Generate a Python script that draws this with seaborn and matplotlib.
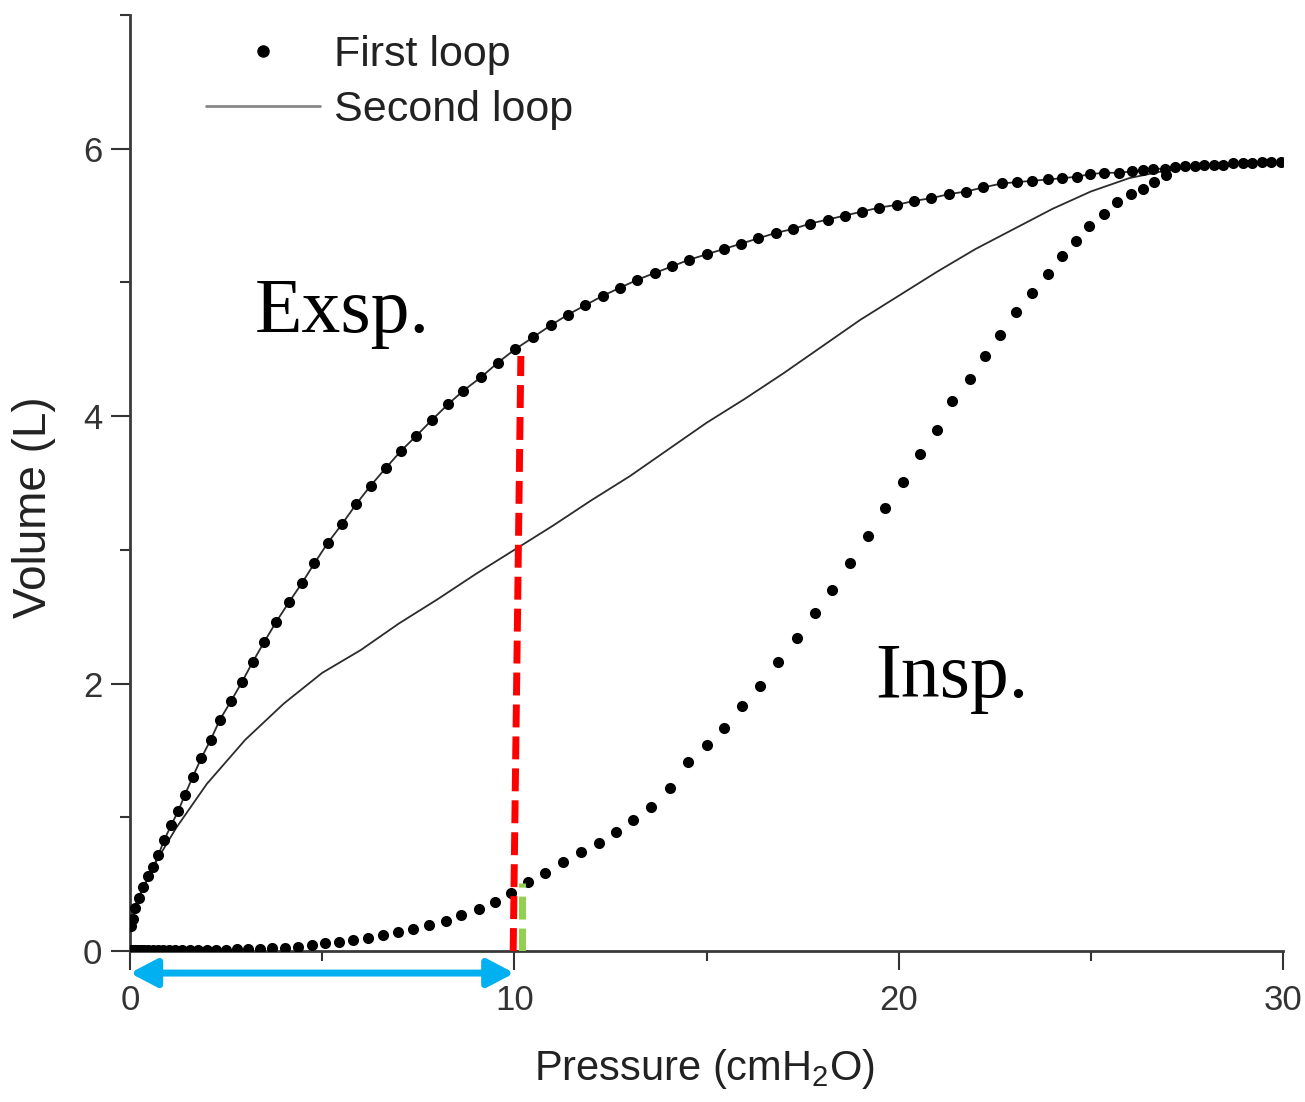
import numpy as np
import matplotlib
matplotlib.use("Agg")
import matplotlib.pyplot as plt
from matplotlib.lines import Line2D
import seaborn as sns

# ---------- data ----------
# first loop, expiratory (upper) limb, dots
exp_p = [0.03, 0.07, 0.13, 0.24, 0.35, 0.48, 0.61, 0.74, 0.89, 1.07, 1.26, 1.43,
         1.63, 1.85, 2.10, 2.34, 2.63, 2.91, 3.19, 3.49, 3.80, 4.14, 4.47, 4.80,
         5.14, 5.51, 5.88, 6.26, 6.65, 7.05, 7.44, 7.85, 8.28, 8.67, 9.13, 9.57,
         10.02, 10.49, 10.95, 11.40, 11.85, 12.30, 12.75, 13.20, 13.65, 14.10,
         14.55, 15.00, 15.45, 15.90, 16.35, 16.80, 17.25, 17.70, 18.15, 18.60,
         19.05, 19.50, 19.95, 20.40, 20.85, 21.30, 21.75, 22.20, 22.68, 23.07,
         23.48, 23.88, 24.26, 24.63, 24.98, 25.35, 25.72, 26.07, 26.35, 26.63,
         26.93, 27.19, 27.45, 27.70, 27.95, 28.20, 28.45, 28.70, 28.95, 29.20,
         29.45, 29.70, 29.95]
exp_v = [0.19, 0.24, 0.32, 0.40, 0.48, 0.56, 0.63, 0.72, 0.83, 0.94, 1.05, 1.17,
         1.30, 1.44, 1.58, 1.73, 1.87, 2.01, 2.16, 2.31, 2.46, 2.61, 2.75, 2.90,
         3.05, 3.19, 3.34, 3.48, 3.61, 3.74, 3.85, 3.97, 4.09, 4.19, 4.29, 4.40,
         4.50, 4.59, 4.68, 4.76, 4.83, 4.90, 4.96, 5.02, 5.07, 5.12, 5.17, 5.21,
         5.25, 5.29, 5.33, 5.37, 5.40, 5.44, 5.47, 5.50, 5.53, 5.56, 5.58, 5.61,
         5.63, 5.66, 5.68, 5.71, 5.74, 5.75, 5.76, 5.77, 5.78, 5.79, 5.81, 5.82,
         5.82, 5.83, 5.84, 5.85, 5.85, 5.86, 5.87, 5.87, 5.88, 5.88, 5.88, 5.89,
         5.89, 5.89, 5.90, 5.90, 5.90]

# first loop, inspiratory (lower) limb, dots
insp_p = [0.02, 0.07, 0.13, 0.20, 0.28, 0.37, 0.47, 0.59, 0.72, 0.86, 1.01,
          1.18, 1.36, 1.56, 1.77, 2.00, 2.24, 2.50, 2.78, 3.07, 3.38, 3.70,
          4.03, 4.38, 4.73, 5.08, 5.43, 5.80, 6.20, 6.58, 6.97, 7.37, 7.79,
          8.22, 8.62, 9.07, 9.49, 9.91, 10.36, 10.81, 11.27, 11.74, 12.20,
          12.65, 13.10, 13.55, 14.05, 14.52, 15.00, 15.46, 15.92, 16.39, 16.86,
          17.36, 17.82, 18.27, 18.74, 19.20, 19.65, 20.11, 20.56, 21.00, 21.39,
          21.86, 22.25, 22.64, 23.06, 23.46, 23.88, 24.26, 24.62, 24.96, 25.35,
          25.67, 26.04, 26.35, 26.64, 26.95]
insp_v = [0.01, 0.01, 0.01, 0.01, 0.01, 0.01, 0.01, 0.01, 0.01, 0.01, 0.01,
          0.01, 0.01, 0.01, 0.01, 0.01, 0.01, 0.01, 0.012, 0.014, 0.017, 0.02,
          0.025, 0.032, 0.045, 0.057, 0.069, 0.082, 0.097, 0.119, 0.14, 0.162,
          0.194, 0.224, 0.269, 0.313, 0.368, 0.435, 0.517, 0.58, 0.666, 0.741,
          0.81, 0.89, 0.98, 1.08, 1.22, 1.41, 1.54, 1.67, 1.83, 1.98, 2.16,
          2.34, 2.53, 2.70, 2.90, 3.10, 3.31, 3.51, 3.72, 3.90, 4.11, 4.28,
          4.45, 4.61, 4.78, 4.92, 5.06, 5.20, 5.31, 5.42, 5.51, 5.60, 5.66,
          5.70, 5.75, 5.80]

# second loop, inspiratory limb (expiration runs back along the first loop)
second_p = [0.0, 0.3, 0.7, 1.2, 2.0, 3.0, 4.0, 5.0, 6.0, 7.0, 8.0, 9.0, 10.0,
            11.0, 12.0, 13.0, 14.0, 15.0, 16.0, 17.0, 18.0, 19.0, 20.0, 21.0,
            22.0, 23.0, 24.0, 25.0, 26.0, 27.0, 28.0, 29.0, 30.0]
second_v = [0.25, 0.45, 0.68, 0.92, 1.25, 1.58, 1.85, 2.08, 2.25, 2.45, 2.63,
            2.82, 3.00, 3.18, 3.37, 3.55, 3.75, 3.95, 4.13, 4.32, 4.52, 4.72,
            4.90, 5.08, 5.25, 5.40, 5.55, 5.68, 5.78, 5.84, 5.87, 5.89, 5.90]

# overlay annotations
red_p = [9.97, 10.17]
red_v = [0.0, 4.45]
green_p = [10.19, 10.19]
green_v = [0.0, 0.51]
arrow_p = [0.0, 10.0]
arrow_v = -0.165

loop2_p = second_p + exp_p[::-1]
loop2_v = second_v + exp_v[::-1]

# ---------- style ----------
sns.set_style("ticks")
plt.rcParams["font.family"] = ["Liberation Sans", "DejaVu Sans"]
plt.rcParams["mathtext.fontset"] = "custom"
plt.rcParams["mathtext.rm"] = "Liberation Sans"

fig = plt.figure(figsize=(13.05, 11.02), dpi=100)
ax = fig.add_axes([130 / 1305, 151 / 1102, 1153 / 1305, 936 / 1102])

# second loop line
sns.lineplot(x=loop2_p, y=loop2_v, sort=False, estimator=None, ax=ax,
             color="#2b2b2b", linewidth=1.3, zorder=2)

# first loop dots
sns.scatterplot(x=exp_p, y=exp_v, ax=ax, color="black", s=64,
                linewidth=0, zorder=3)
sns.scatterplot(x=insp_p, y=insp_v, ax=ax, color="black", s=64,
                linewidth=0, zorder=3)

# dashed markers
ax.plot(red_p, red_v, color="#ff0000", linewidth=5, dashes=(3.3, 1.3),
        solid_capstyle="butt", zorder=4)
ax.plot(green_p, green_v, color="#92d050", linewidth=5, dashes=(3.3, 1.3),
        zorder=4)

# blue double arrow under the axis
ax.annotate("", xy=(arrow_p[0], arrow_v), xytext=(arrow_p[1], arrow_v),
            arrowprops=dict(arrowstyle="<|-|>,head_length=0.8,head_width=0.42",
                            color="#00b0f0", lw=5, mutation_scale=20,
                            shrinkA=0, shrinkB=0),
            annotation_clip=False, zorder=5)

# labels inside plot
ax.text(3.25, 4.63, "Exsp.", family="Liberation Serif", fontsize=56,
        color="black", ha="left", va="baseline")
ax.text(19.4, 1.90, "Insp.", family="Liberation Serif", fontsize=56,
        color="black", ha="left", va="baseline")

# axes
ax.set_xlim(0, 30)
ax.set_ylim(0, 7)
ax.set_xticks([0, 10, 20, 30])
ax.set_xticks([5, 15, 25], minor=True)
ax.set_yticks([0, 2, 4, 6])
ax.set_yticks([1, 3, 5, 7], minor=True)
ax.tick_params(which="major", length=14, width=1.5, color="#333333",
               labelsize=25, labelcolor="#333333")
ax.tick_params(which="minor", length=7, width=1.5, color="#333333")
ax.tick_params(axis="x", pad=10)
ax.tick_params(axis="y", pad=6)
sns.despine(ax=ax)
for side in ["left", "bottom"]:
    ax.spines[side].set_linewidth(2)
    ax.spines[side].set_color("#3a3a3a")

ax.set_xlabel("Pressure (cmH$_2$O)", fontsize=30, color="#222222", va="top")
ax.xaxis.set_label_coords(0.498, -0.103)
ax.set_ylabel("Volume (L)", fontsize=33, color="#222222", va="center")
ax.yaxis.set_label_coords(-0.083, 0.474)

handles = [
    Line2D([], [], linestyle="none", marker="o", color="black", markersize=8),
    Line2D([], [], color="#888888", linewidth=2),
]
ax.legend(handles, ["First loop", "Second loop"], loc="upper left",
          bbox_to_anchor=(0.066, 0.979), frameon=False, fontsize=31,
          handlelength=2.65, handletextpad=0.32, labelspacing=0.35,
          borderpad=0, borderaxespad=0, labelcolor="#222222")

plt.savefig("out.png", dpi=100)
plt.close()
